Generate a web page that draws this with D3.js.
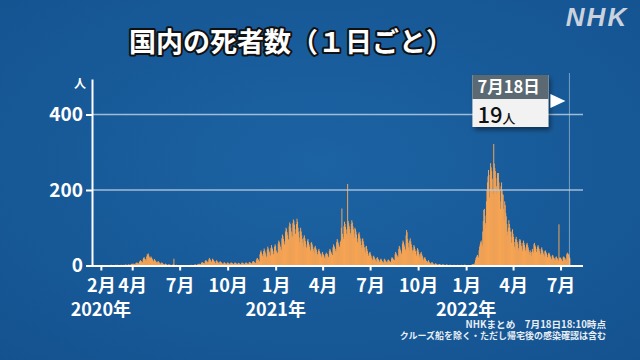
<!DOCTYPE html>
<html><head><meta charset="utf-8">
<script src="https://cdn.jsdelivr.net/npm/d3@7/dist/d3.min.js"></script>
<style>
html,body{margin:0;padding:0;background:#165a98;}
svg{display:block;font-family:"Noto Sans CJK JP","Noto Sans",sans-serif;}
</style></head>
<body>
<svg id="chart" width="640" height="360"></svg>
<script>
// ---- data: daily deaths in Japan ----
// 2020: starts 2020-02-13
const deaths2020 = [
 1,0,0,0,0,0,0,2,0,0,0,0,1,1,0,1,2,                      // Feb 13-29
 0,1,2,0,1,0,1, 1,0,2,1,1,1,1, 2,0,1,2,3,1,2, 0,1,3,2,2,1,2, 3,4,5, // Mar
 4,3,5,4,3, 3,6,7,8,6,7,5, 5,10,12,14,12,11,9, 8,16,20,22,18,17,14, 12,24,30,28, // Apr
 32,26,22, 18,20,24,21,19,16,12, 10,15,17,14,12,10,8, 6,10,12,9,8,6,5, 4,7,8,6,5,4,3, // May
 2,4,5,3,3,2,1, 1,3,3,2,2,1,1, 1,2,2,3,18,2,1, 0,1,2,1,1,1,0, 0,1, // Jun
 1,1,0,1,0, 0,1,1,0,1,0,0, 0,1,1,0,1,1,0, 0,1,2,1,1,1,0, 1,2,2,3,2, // Jul
 1,1, 2,4,3,5,4,3,3, 4,7,9,8,7,6,5, 6,12,14,13,11,10,8, 9,16,20,17,15,13,10, 8, // Aug
 18,16,14,12,10,7, 6,12,14,11,9,8,6, 5,10,11,9,8,6,5, 4,5,8,8,7,5,4, 3,7,8, // Sep
 7,6,5,4, 3,7,8,7,6,5,4, 3,6,8,7,6,5,4, 3,6,7,6,5,4,3, 3,7,8,6,6,5, // Oct
 4, 3,7,8,7,6,5,4, 4,8,9,8,7,6,5, 5,10,12,11,9,8,7, 6,14,18,20,17,15,12, 10, // Nov
 30,36,40,34,30,25, 20,38,45,40,35,30,24, 22,42,50,45,40,35,28, 26,46,54,48,44,38,30, 28,50,56,52 // Dec
];
// 2021: starts 2021-01-01
const deaths2021 = [
 40,36,34, 32,58,66,62,56,50,44, 40,72,82,78,70,64,56, 54,90,100,96,88,80,70, 68,104,114,110,100,90,78, // Jan
 76,112,122,118,108,96,84, 70,110,124,116,100,88,74, 62,92,100,90,80,70,60, 50,74,80,72,64,56,48, // Feb
 44,66,70,62,56,50,42, 38,60,62,56,50,44,38, 32,48,52,46,42,36,30, 26,40,44,38,34,30,26, 22,32,36, // Mar
 30,28,24,20, 18,30,34,32,30,26,22, 22,38,44,40,36,32,28, 28,48,56,52,48,44,38, 36,62,70,66,60, // Apr
 54,50, 48,62,66,100,151,84,76, 70,104,116,110,102,96,84, 80,216,118,112,104,96,86, 80,110,120,114,104,96,84, 74, // May
 100,96,90,82,72,62, 56,84,88,80,72,64,54, 46,70,72,64,56,48,40, 34,50,52,44,38,32,26, 22,34,36, // Jun
 30,26,20,16, 14,24,26,22,18,16,12, 10,20,22,18,16,14,10, 9,16,18,15,12,10,8, 8,16,18,14,12,10, // Jul
 8, 8,14,16,14,12,11,9, 8,18,22,20,18,16,14, 14,30,36,32,28,26,22, 22,44,52,48,42,38,32, 30,58, // Aug
 66,62,56,50,44, 40,80,94,88,70,60,48, 40,66,72,64,56,48,40, 30,42,54,50,44,38,30, 26,40,46,42, // Sep
 36,30,24, 20,32,36,30,26,22,16, 12,20,22,18,14,12,9, 8,12,14,10,8,6,5, 4,8,9,6,5,4,3, // Oct
 3,5,6,4,3,2,2, 2,4,4,3,2,2,1, 1,3,3,2,2,1,1, 1,2,3,2,1,1,0, 0,2, // Nov
 2,1,1,1,0, 0,1,2,1,1,1,0, 0,1,2,1,1,0,0, 0,1,2,1,1,1,0, 1,2,2,1,1 // Dec
];
// 2022: starts 2022-01-01, ends 2022-07-18
const deaths2022 = [
 0,0, 0,1,1,1,1,1,0, 1,2,3,3,4,4,3, 8,14,20,22,26,28,24, 20,40,50,56,62,66,58, 52, // Jan
 90,118,147,150,132,112, 100,170,200,220,236,253,200, 180,240,271,260,250,230,200, 190,322,270,258,250,232,210, 190, // Feb
 245,240,245,220,200,170, 150,210,220,200,190,187,150, 120,170,160,139,130,110,90, 80,100,120,110,100,90,76, 60,90,96,84, // Mar
 76,62,50, 44,70,76,68,62,56,46, 40,64,70,67,60,52,44, 38,60,66,60,54,48,40, 34,56,60,54,48,42, // Apr
 36, 30,40,34,26,36,44,38, 34,56,60,54,50,44,36, 32,50,54,48,44,38,32, 28,44,48,42,38,32,28, 24,38, // May
 40,36,32,28,22, 20,32,34,30,26,22,18, 16,26,28,24,20,19,15, 14,22,24,20,18,15,12, 109,20,22,20, // Jun
 18,16,12, 12,22,24,22,20,18,14, 14,30,34,32,30,28,22, 19 // Jul
];
const monthTicks = ["2020-02","2020-04","2020-07","2020-10","2021-01","2021-04","2021-07","2021-10","2022-01","2022-04","2022-07"];
const yearLabels = [["2020-02","2020年"],["2021-01","2021年"],["2022-01","2022年"]];
const yTicks = [0,200,400];
const titleText = "国内の死者数（１日ごと）";
const calloutDate = "7月18日";
const calloutValue = 19;
const noteLines = ["NHKまとめ　7月18日18:10時点","クルーズ船を除く・ただし帰宅後の感染確認は含む"];

if (deaths2020.length !== 323 || deaths2021.length !== 365 || deaths2022.length !== 199) {
  throw new Error("lengths " + deaths2020.length + " " + deaths2021.length + " " + deaths2022.length);
}

const parseM = d3.timeParse("%Y-%m");
function build(arr, start){ return arr.map((v,i)=>({date:d3.timeDay.offset(start,i), value:v})); }
const data = [].concat(
  build(deaths2020, new Date(2020,1,13)),
  build(deaths2021, new Date(2021,0,1)),
  build(deaths2022, new Date(2022,0,1))
);

const svg = d3.select("#chart");
const defs = svg.append("defs");
const rg = defs.append("radialGradient").attr("id","bg").attr("cx","50%").attr("cy","45%").attr("r","75%");
rg.append("stop").attr("offset","0%").attr("stop-color","#1c63a3");
rg.append("stop").attr("offset","100%").attr("stop-color","#14528f");
const sh = defs.append("filter").attr("id","shadow").attr("x","-20%").attr("y","-20%").attr("width","150%").attr("height","160%");
sh.append("feDropShadow").attr("dx",2).attr("dy",3).attr("stdDeviation",2.5).attr("flood-color","#000").attr("flood-opacity",0.45);

svg.append("rect").attr("width",640).attr("height",360).attr("fill","url(#bg)");

const x = d3.scaleTime().domain([new Date(2020,0,15), new Date(2022,7,13)]).range([92,583]);
const y = d3.scaleLinear().domain([0,494]).range([265.5,79]);

// bars (slightly overlapping so the daily bars merge into a solid fill)
svg.append("g").selectAll("rect").data(data).join("rect")
  .attr("x", d=>x(d.date))
  .attr("width", d=>x(d3.timeDay.offset(d.date,1))-x(d.date)+0.45)
  .attr("y", d=>y(d.value))
  .attr("height", d=>y(0)-y(d.value))
  .attr("fill","#f9a553");

// gridlines
svg.append("g").selectAll("line").data(yTicks.filter(v=>v>0)).join("line")
  .attr("x1",92).attr("x2",583).attr("y1",d=>y(d)).attr("y2",d=>y(d))
  .attr("stroke","#b9cce0").attr("stroke-opacity",0.85).attr("stroke-width",1.6);

// y axis
const yAxis = svg.append("g").attr("transform","translate(92,0)")
  .call(d3.axisLeft(y).tickValues(yTicks).tickSize(6).tickPadding(3).tickSizeOuter(0));
yAxis.select(".domain").attr("stroke","#fff").attr("stroke-width",2);
yAxis.selectAll(".tick line").attr("stroke","#fff").attr("stroke-width",2);
yAxis.selectAll(".tick text").attr("fill","#fff").attr("font-size",19).attr("font-weight","bold")
  .attr("font-family","'Noto Sans CJK JP',sans-serif");
svg.append("text").attr("x",80).attr("y",88).attr("text-anchor","middle").attr("fill","#fff")
  .attr("font-size",12).attr("font-weight","bold").text("人");

// x axis
const xAxis = svg.append("g").attr("transform","translate(0,"+y(0)+")")
  .call(d3.axisBottom(x).tickValues(monthTicks.map(parseM)).tickSize(5).tickPadding(9).tickSizeOuter(0)
    .tickFormat(d=>(d.getMonth()+1)+"月"));
xAxis.select(".domain").attr("stroke","#fff").attr("stroke-width",2).attr("d","M86,0.5H583");
xAxis.selectAll(".tick line").attr("stroke","#fff").attr("stroke-width",2);
xAxis.selectAll(".tick text").attr("fill","#fff").attr("font-size",18).attr("font-weight","bold")
  .attr("font-family","'Noto Sans CJK JP',sans-serif");

svg.append("g").selectAll("text").data(yearLabels).join("text")
  .attr("x",d=>x(parseM(d[0]))).attr("y",316).attr("text-anchor","middle")
  .attr("fill","#fff").attr("font-size",18).attr("font-weight","bold").text(d=>d[1]);

// callout
const cx = x(new Date(2022,6,18));
svg.append("line").attr("x1",cx).attr("x2",cx).attr("y1",73).attr("y2",y(0))
  .attr("stroke","#c6d6e6").attr("stroke-opacity",0.55).attr("stroke-width",1);
const cg = svg.append("g");
const bx = cx-97, bw = 76;
cg.append("rect").attr("x",bx).attr("y",75).attr("width",bw).attr("height",52).attr("fill","#f2f2f2").attr("filter","url(#shadow)");
cg.append("rect").attr("x",bx).attr("y",75).attr("width",bw).attr("height",24).attr("fill","#5b6a72");
cg.append("text").attr("x",bx+5).attr("y",93).attr("fill","#fff").attr("font-size",16.5).attr("font-weight","bold").text(calloutDate);
const vt = cg.append("text").attr("x",bx+5).attr("y",123).attr("fill","#111");
vt.append("tspan").attr("font-size",22).attr("font-weight","500").text(calloutValue);
vt.append("tspan").attr("font-size",13).attr("font-weight","500").text("人");
cg.append("path").attr("d",`M${bx+bw+2},${94}L${cx-4},${101}L${bx+bw+2},${108}Z`).attr("fill","#fff");

// title
svg.append("text").attr("x",291).attr("y",52).attr("text-anchor","middle")
  .attr("font-size",27).attr("font-weight","bold").attr("fill","#fff")
  .attr("stroke","#111").attr("stroke-width",4).attr("paint-order","stroke").attr("stroke-linejoin","round")
  .text(titleText);

// logo
svg.append("text").attr("x",597).attr("y",26).attr("text-anchor","middle")
  .attr("font-family","'Liberation Sans',Arial,sans-serif").attr("font-style","italic")
  .attr("font-size",26).attr("font-weight","bold").attr("fill","#c9d2de").attr("letter-spacing",2).text("NHK");

// note
svg.append("g").selectAll("text").data(noteLines).join("text")
  .attr("x",606).attr("y",(d,i)=>328+i*10.5).attr("text-anchor","end")
  .attr("fill","#e8eef5").attr("font-size",(d,i)=>i===0?9.6:9).attr("font-weight","bold").text(d=>d);
</script>
</body></html>
